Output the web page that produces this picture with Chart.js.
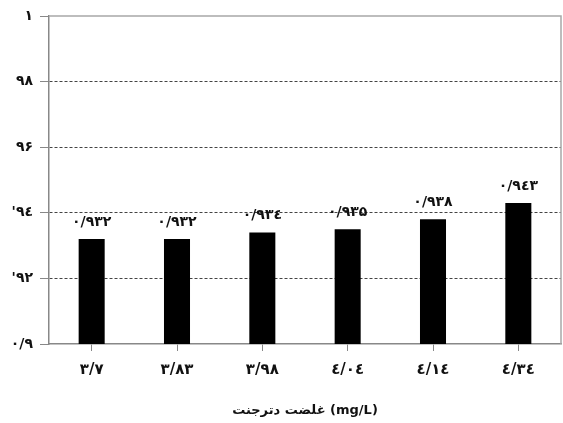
<!DOCTYPE html>
<html>
<head>
<meta charset="utf-8">
<script src="https://cdn.jsdelivr.net/npm/chart.js@4/dist/chart.umd.min.js"></script>
<style>
html, body { margin: 0; padding: 0; background: #fff; }
#wrap { width: 563px; height: 423px; }
</style>
</head>
<body>
<div id="wrap"><canvas id="myBarChart" width="563" height="423"></canvas></div>
<script>
// detergent concentration (mg/L) on the x axis
var categories = ['۳/۷', '۳/۸۳', '۳/۹۸', '٤/۰٤', '٤/۱٤', '٤/۳٤'];
var values = [0.932, 0.932, 0.934, 0.935, 0.938, 0.943];
var valueLabels = ['۰/۹۳۲', '۰/۹۳۲', '۰/۹۳٤', '۰/۹۳۵', '۰/۹۳۸', '۰/۹٤۳'];
// y tick labels, bottom to top (0.9 ... 1)
var yTickLabels = ['۰/۹', "'۹۲", "'۹٤", '۹۶', '۹۸', '۱'];
var axisTitle = 'غلضت دترجنت (mg/L)';

var fontFamily = '"DejaVu Sans", sans-serif';

// value labels above the bars + light frame on top and right
var extras = {
    id: 'extras',
    afterDatasetsDraw: function(chart) {
        var ctx = chart.ctx;
        var area = chart.chartArea;
        ctx.save();
        ctx.strokeStyle = '#a8a8a8';
        ctx.lineWidth = 1.5;
        ctx.beginPath();
        ctx.moveTo(area.left, area.top);
        ctx.lineTo(area.right, area.top);
        ctx.lineTo(area.right, area.bottom);
        ctx.stroke();

        var meta = chart.getDatasetMeta(0);
        ctx.fillStyle = '#111';
        ctx.font = 'bold 14px ' + fontFamily;
        ctx.textAlign = 'center';
        ctx.textBaseline = 'middle';
        meta.data.forEach(function(bar, i) {
            ctx.fillText(valueLabels[i], bar.x, bar.y - 17);
        });
        ctx.restore();
    }
};

var ctx = document.getElementById('myBarChart').getContext('2d');
var myBarChart = new Chart(ctx, {
    type: 'bar',
    data: {
        labels: categories,
        datasets: [{
            data: values,
            backgroundColor: '#000',
            borderWidth: 0,
            barPercentage: 0.305,
            categoryPercentage: 1
        }]
    },
    options: {
        responsive: false,
        animation: false,
        layout: {
            padding: { left: 0, right: 2, top: 16, bottom: 0 }
        },
        plugins: {
            legend: { display: false },
            tooltip: { enabled: false }
        },
        scales: {
            x: {
                grid: {
                    offset: false,
                    drawOnChartArea: false,
                    drawTicks: true,
                    tickLength: 7,
                    tickColor: '#888'
                },
                border: { display: true, color: '#888', width: 1.5 },
                ticks: {
                    color: '#111',
                    padding: 10,
                    font: { family: fontFamily, size: 15, weight: 'bold' }
                },
                title: {
                    display: true,
                    text: axisTitle,
                    color: '#111',
                    padding: { top: 0, bottom: 5 },
                    font: { family: fontFamily, size: 13, weight: 'bold' }
                },
                afterFit: function(scale) { scale.height = 79; }
            },
            y: {
                min: 0.9,
                max: 1,
                grid: {
                    color: function(c) {
                        return (c.index === 0 || c.index === yTickLabels.length - 1) ? 'transparent' : '#444';
                    },
                    lineWidth: 1,
                    drawTicks: true,
                    tickLength: 9,
                    tickColor: '#888'
                },
                border: { display: true, color: '#888', width: 1.5, dash: [3, 2] },
                ticks: {
                    stepSize: 0.02,
                    color: '#111',
                    padding: 7,
                    font: { family: fontFamily, size: 14, weight: 'bold' },
                    callback: function(value, index) { return yTickLabels[index]; }
                },
                afterFit: function(scale) { scale.width = 49; }
            }
        }
    },
    plugins: [extras]
});
</script>
</body>
</html>
